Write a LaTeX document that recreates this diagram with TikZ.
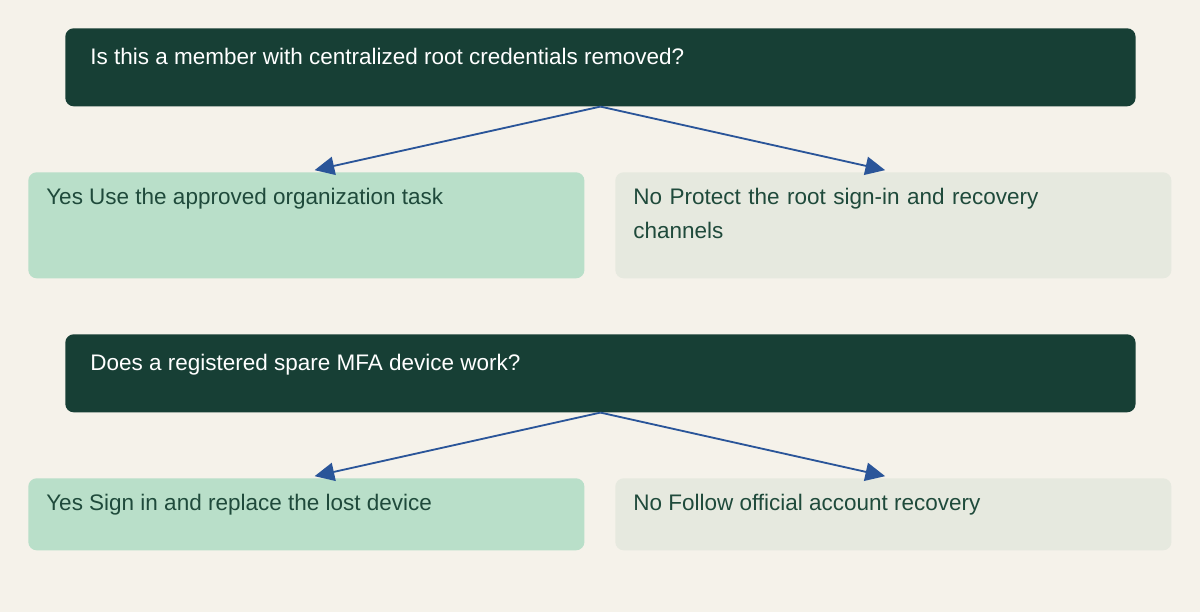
\documentclass[tikz,border=0pt]{standalone}
\usepackage{fontspec}
\setmainfont{Liberation Sans}
\usepackage{xcolor}
\usetikzlibrary{positioning,arrows.meta}

\definecolor{paper}{HTML}{F5F2EA}
\definecolor{pine}{HTML}{173F35}
\definecolor{mint}{HTML}{B9DFC9}
\definecolor{sage}{HTML}{E6E9DF}
\definecolor{ink}{HTML}{1F4A3B}
\definecolor{flow}{HTML}{2A5599}

\tikzset{
	box/.style={rounded corners=6pt, inner sep=0pt, anchor=north west},
	question/.style={box, fill=pine, minimum width=26.75cm, minimum height=1.95cm},
	answer/.style={box, minimum width=13.9cm},
	words/.style={anchor=north west, inner sep=0pt, align=left, font=\fontsize{16}{24}\selectfont},
	link/.style={-{Triangle[length=14pt,width=13pt]}, line width=1.3pt, color=flow, shorten >=6pt}
}

\begin{document}
\begin{tikzpicture}[x=0.025cm, y=-0.025cm]

\fill[color=paper] (0,0) rectangle (1200,612);
\useasboundingbox (0,0) rectangle (1200,612);

% first question
\node[question] (q1) at (65,28) {};
\node[words, text=white] at (90,48) {Is this a member with centralized root credentials removed?};

\node[answer, fill=mint, minimum height=2.65cm] (yes1) at (28,172) {};
\node[words, text=ink] at (46,188) {Yes Use the approved organization task};

\node[answer, fill=sage, minimum height=2.65cm] (no1) at (615,172) {};
\node[words, text=ink, text width=11.5cm] at (633,188) {No Protect the root sign-in and recovery\\channels};

\draw[link] (q1.south) -- (yes1.north);
\draw[link] (q1.south) -- (no1.north);

% second question
\node[question] (q2) at (65,334) {};
\node[words, text=white] at (90,354) {Does a registered spare MFA device work?};

\node[answer, fill=mint, minimum height=1.8cm] (yes2) at (28,478) {};
\node[words, text=ink] at (46,494) {Yes Sign in and replace the lost device};

\node[answer, fill=sage, minimum height=1.8cm] (no2) at (615,478) {};
\node[words, text=ink] at (633,494) {No Follow official account recovery};

\draw[link] (q2.south) -- (yes2.north);
\draw[link] (q2.south) -- (no2.north);

\end{tikzpicture}
\end{document}
